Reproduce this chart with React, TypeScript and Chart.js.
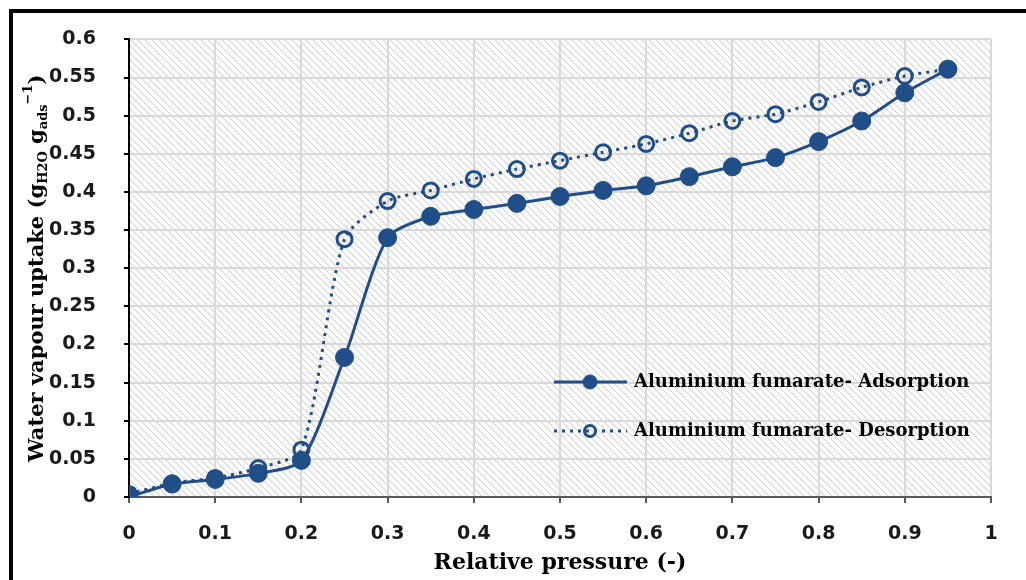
import React, { useEffect, useRef } from "react";
import { Chart, registerables } from "chart.js";

Chart.register(...registerables);

const pressures = [0, 0.05, 0.1, 0.15, 0.2, 0.25, 0.3, 0.35, 0.4, 0.45, 0.5, 0.55, 0.6, 0.65, 0.7, 0.75, 0.8, 0.85, 0.9, 0.95];
const adsorption = [0.0, 0.017, 0.023, 0.031, 0.048, 0.183, 0.34, 0.368, 0.377, 0.385, 0.394, 0.402, 0.408, 0.42, 0.433, 0.445, 0.466, 0.493, 0.53, 0.561];
const desorption = [0.004, 0.018, 0.025, 0.038, 0.062, 0.338, 0.388, 0.402, 0.417, 0.43, 0.441, 0.452, 0.463, 0.477, 0.493, 0.502, 0.518, 0.537, 0.552, 0.561];
const seriesNames = ["Aluminium fumarate- Adsorption", "Aluminium fumarate- Desorption"];
const xTitle = "Relative pressure (-)";
const yTitleParts = [
  { t: "Water vapour uptake (g", k: "n" },
  { t: "H2O", k: "sub" },
  { t: " g", k: "n" },
  { t: "ads", k: "sub" },
  { t: "\u22121", k: "sup" },
  { t: ")", k: "n" },
];

const BLUE = "#1f4e89";
const SERIF = "'DejaVu Serif', serif";
const TICKFONT = { family: "'DejaVu Sans'", weight: "bold", size: 19 };

export default function App() {
  const ref = useRef<HTMLCanvasElement | null>(null);

  useEffect(() => {
    const canvas = ref.current!;
    const tile = document.createElement("canvas");
    const s = 7;
    tile.width = s;
    tile.height = s;
    const tctx = tile.getContext("2d")!;
    tctx.fillStyle = "#ffffff";
    tctx.fillRect(0, 0, s, s);
    tctx.strokeStyle = "#d4d4d4";
    tctx.lineWidth = 1.1;
    for (const k of [-s, 0, s]) {
      tctx.beginPath();
      tctx.moveTo(k, 0);
      tctx.lineTo(k + s, s);
      tctx.stroke();
    }
    const pattern = canvas.getContext("2d")!.createPattern(tile, "repeat");

    const bgPlugin = {
      id: "bg",
      beforeDraw(chart: any) {
        const { ctx, chartArea: a } = chart;
        ctx.save();
        ctx.fillStyle = "#ffffff";
        ctx.fillRect(0, 0, chart.width, chart.height);
        ctx.fillStyle = pattern;
        ctx.fillRect(a.left, a.top, a.right - a.left, a.bottom - a.top);
        ctx.strokeStyle = "#000";
        ctx.lineWidth = 4;
        ctx.beginPath();
        ctx.moveTo(11, 580);
        ctx.lineTo(11, 11);
        ctx.lineTo(1026, 11);
        ctx.stroke();
        ctx.restore();
      },
      afterDraw(chart: any) {
        const { ctx, chartArea: a } = chart;
        ctx.save();
        // x title
        ctx.fillStyle = "#000";
        ctx.font = `bold 22px ${SERIF}`;
        ctx.textAlign = "center";
        ctx.textBaseline = "middle";
        ctx.fillText(xTitle, (a.left + a.right) / 2, 563);
        // y title
        ctx.translate(38, (a.top + a.bottom) / 2);
        ctx.rotate(-Math.PI / 2);
        ctx.textAlign = "left";
        const fontFor = (k: string) => (k === "n" ? `bold 21px ${SERIF}` : `bold 13px ${SERIF}`);
        let total = 0;
        for (const p of yTitleParts) {
          ctx.font = fontFor(p.k);
          total += ctx.measureText(p.t).width;
        }
        let x = -total / 2;
        for (const p of yTitleParts) {
          ctx.font = fontFor(p.k);
          const dy = p.k === "sub" ? 6 : p.k === "sup" ? -9 : 0;
          ctx.fillText(p.t, x, dy);
          x += ctx.measureText(p.t).width;
        }
        ctx.restore();

        // legend
        ctx.save();
        const rows = [382, 431];
        chart.data.datasets.forEach((ds: any, i: number) => {
          const y = rows[i];
          ctx.strokeStyle = ds.borderColor;
          ctx.lineWidth = ds.borderWidth;
          ctx.setLineDash(ds.borderDash || []);
          ctx.beginPath();
          ctx.moveTo(554, y);
          ctx.lineTo(627, y);
          ctx.stroke();
          ctx.setLineDash([]);
          ctx.beginPath();
          ctx.arc(590, y, ds.pointRadius - 2, 0, Math.PI * 2);
          ctx.fillStyle = ds.pointBackgroundColor;
          ctx.fill();
          ctx.lineWidth = ds.pointBorderWidth;
          ctx.strokeStyle = ds.pointBorderColor;
          ctx.stroke();
          ctx.fillStyle = "#000";
          ctx.font = `bold 18px ${SERIF}`;
          ctx.textAlign = "left";
          ctx.textBaseline = "middle";
          ctx.fillText(ds.label, 634, y);
        });
        ctx.restore();
      },
    };

    const chart = new Chart(canvas, {
      type: "line",
      data: {
        datasets: [
          {
            label: seriesNames[0],
            data: pressures.map((p, i) => ({ x: p, y: adsorption[i] })),
            borderColor: BLUE,
            borderWidth: 3,
            pointRadius: 9,
            pointBackgroundColor: BLUE,
            pointBorderColor: BLUE,
            pointBorderWidth: 1,
            tension: 0.25,
          },
          {
            label: seriesNames[1],
            data: pressures.map((p, i) => ({ x: p, y: desorption[i] })),
            borderColor: BLUE,
            borderWidth: 3,
            borderDash: [3, 5],
            pointRadius: 7.5,
            pointBackgroundColor: "rgba(255,255,255,0)",
            pointBorderColor: BLUE,
            pointBorderWidth: 3,
            tension: 0.25,
          },
        ],
      },
      options: {
        responsive: false,
        animation: false,
        layout: { padding: { left: 0, right: 35, top: 37, bottom: 0 } },
        plugins: { legend: { display: false }, tooltip: { enabled: false } },
        scales: {
          x: {
            type: "linear",
            min: 0,
            max: 1,
            afterFit(scale: any) {
              scale.height = 83;
            },
            ticks: {
              stepSize: 0.1,
              padding: 20,
              color: "#1a1a1a",
              font: TICKFONT,
              callback: (v: any) => String(Math.round(Number(v) * 10) / 10),
            },
            grid: { color: "#d9d9d9", lineWidth: 2, tickLength: 6, tickColor: "#595959" },
            border: { color: "#595959", width: 2 },
          },
          y: {
            min: 0,
            max: 0.6,
            afterFit(scale: any) {
              scale.width = 129;
            },
            ticks: {
              stepSize: 0.05,
              padding: 28,
              color: "#1a1a1a",
              font: TICKFONT,
              callback: (v: any) => String(Math.round(Number(v) * 100) / 100),
            },
            grid: { color: "#d9d9d9", lineWidth: 2, tickLength: 5, tickColor: "#000" },
            border: { color: "#000", width: 2 },
          },
        },
      },
      plugins: [bgPlugin],
    } as any);

    return () => chart.destroy();
  }, []);

  return (
    <div style={{ position: "absolute", left: 0, top: 0, width: 1026, height: 580 }}>
      <canvas ref={ref} width={1026} height={580} />
    </div>
  );
}
